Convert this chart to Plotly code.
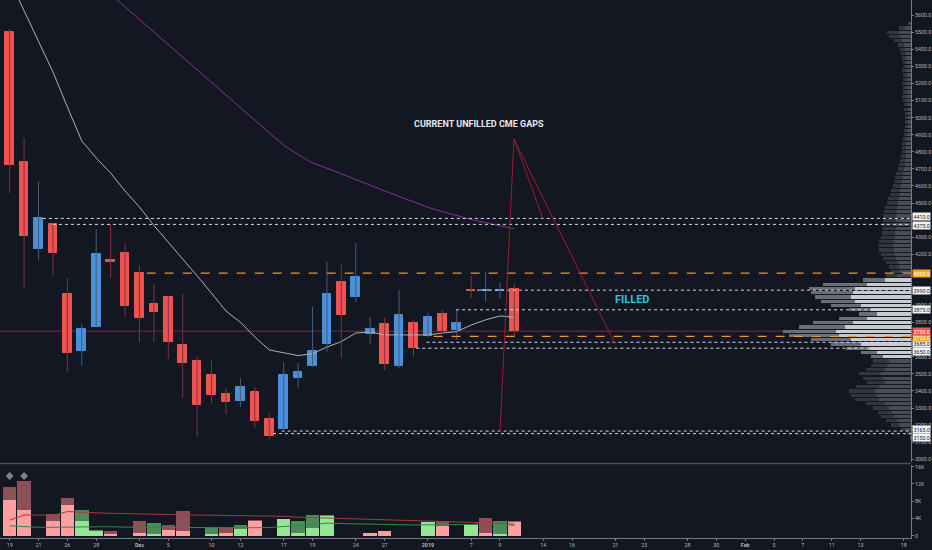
import plotly.graph_objects as go

# ---------------- DATA ----------------
day_index = [0, 1, 2, 3, 4, 5, 6, 7, 8, 9, 10, 11, 12, 13, 14, 15, 16, 17,
             18, 19, 20, 21, 22, 23, 24, 25, 26, 27, 28, 29, 30, 31, 32, 33, 34, 35]

open_ = [5504, 4741, 4231, 4375, 3968, 3634, 3775, 4167, 4208, 4090, 3909, 3950,
         3669, 3576, 3494, 3382, 3341, 3394, 3236, 3177, 3476, 3546, 3675, 4038,
         3950, 3734, 3792, 3546, 3798, 3722, 3851, 3757, 3990, 3985, 3988, 3995]
close = [4723, 4307, 4415, 4208, 3622, 3763, 4202, 4155, 3898, 3827, 3862, 3687,
         3564, 3318, 3376, 3335, 3423, 3224, 3136, 3494, 3511, 3634, 3968, 3845,
         4067, 3763, 3558, 3845, 3652, 3833, 3751, 3798, 3985, 3990, 3992, 3750]
high = [5519, 4881, 4624, 4384, 4062, 3792, 4348, 4378, 4266, 4132, 4021, 3956,
        3968, 3599, 3581, 3412, 3476, 3423, 3271, 3570, 3564, 3892, 4155, 4143,
        4266, 3833, 3827, 3991, 3816, 3857, 3874, 3874, 4073, 4098, 4034, 4025]
low = [4559, 4009, 4167, 4079, 3511, 3546, 3769, 4062, 3833, 3687, 3687, 3587,
       3359, 3131, 3330, 3265, 3306, 3183, 3119, 3172, 3417, 3540, 3628, 3593,
       3921, 3675, 3523, 3535, 3599, 3716, 3739, 3698, 3944, 3923, 3943, 3722]

ma_short = [5805, 5626, 5447, 5268, 5063, 4864, 4764, 4676, 4571, 4477, 4369, 4272,
            4175, 4074, 3972, 3868, 3802, 3716, 3640, 3622, 3607, 3618, 3657, 3689,
            3739, 3745, 3728, 3728, 3728, 3728, 3739, 3747, 3786, 3816, 3839, 3831]
ma_long = [None, None, None, None, None, 5870, 5796, 5722, 5648, 5574, 5499, 5426,
           5351, 5277, 5203, 5129, 5055, 4981, 4908, 4838, 4785, 4735, 4704, 4672,
           4640, 4605, 4571, 4539, 4507, 4475, 4450, 4425, 4404, 4385, 4367, 4349]

vol_total = [11200, 12600, 0, 5100, 8700, 6000, 1400, 1100, 0, 3400, 3000, 2600,
             5700, 0, 1800, 1900, 2600, 3700, 0, 3700, 3400, 4900, 4800, 0,
             0, 700, 1200, 0, 0, 3000, 3500, 0, 2700, 4200, 3500, 3300]
vol_part = [8200, 6000, 0, 3300, 7200, 3400, 1200, 200, 0, 600, 400, 1400,
            1200, 0, 400, 600, 1500, 3300, 0, 3900, 600, 1800, 4600, 0,
            0, 700, 1100, 0, 0, 3200, 2200, 0, 2600, 600, 500, 3200]
vol_dir = ['d', 'd', 'd', 'd', 'd', 'u', 'u', 'd', 'd', 'd', 'u', 'd',
           'd', 'd', 'u', 'd', 'u', 'd', 'd', 'u', 'u', 'u', 'u', 'd',
           'd', 'd', 'd', 'u', 'd', 'u', 'd', 'u', 'u', 'd', 'u', 'd']
vol_ma_red = [3600, 4800, 4800, 4700, 5600, 5400, 5300, 5200, 5100, 5000, 4950, 4900,
              4850, 4800, 4750, 4700, 4700, 4700, 4650, 4500, 4300, 4200, 4100, 4000,
              3900, 3800, 3700, 3600, 3500, 3400, 3350, 3300, 3200, 3100, 2900, 2700]
vol_ma_green = [2300, 2100, 1950, 1950, 2000, 2100, 2200, 2100, 2000, 1950, 1900, 1900,
                1900, 1900, 1900, 1850, 1850, 1850, 1900, 2100, 2350, 2600, 2900, 2800,
                2700, 2650, 2600, 2550, 2500, 2500, 2450, 2450, 2600, 2850, 2700, 2400]
signal_days = [0, 1]
signal_level = 13850

profile_prices = [5550, 5525, 5500, 5475, 5450, 5425, 5400, 5375, 5350, 5325, 5300, 5275,
                  5250, 5225, 5200, 5175, 5150, 5125, 5100, 5075, 5050, 5025, 5000, 4975,
                  4950, 4925, 4900, 4875, 4850, 4825, 4800, 4775, 4750, 4725, 4700, 4675,
                  4650, 4625, 4600, 4575, 4550, 4525, 4500, 4475, 4450, 4425, 4400, 4375,
                  4350, 4325, 4300, 4275, 4250, 4225, 4200, 4175, 4150, 4125, 4100, 4075,
                  4050, 4025, 4000, 3975, 3950, 3925, 3900, 3875, 3850, 3825, 3800, 3775,
                  3750, 3725, 3700, 3675, 3650, 3625, 3600, 3575, 3550, 3525, 3500, 3475,
                  3450, 3425, 3400, 3375, 3350, 3325, 3300, 3275, 3250, 3225, 3200, 3175,
                  3150, 3125]
profile_total = [3, 12, 24, 22, 17, 13, 11, 10, 9, 8, 8, 9,
                 8, 8, 9, 8, 8, 9, 8, 7, 7, 6, 6, 6,
                 6, 7, 7, 8, 9, 9, 9, 10, 11, 12, 13, 15,
                 16, 17, 18, 20, 21, 23, 24, 26, 27, 28, 28, 29,
                 28, 29, 30, 32, 33, 32, 30, 28, 25, 22, 20, 25,
                 48, 88, 102, 100, 96, 90, 80, 62, 52, 72, 98, 112,
                 128, 122, 100, 80, 65, 50, 40, 38, 40, 45, 52, 48,
                 44, 55, 62, 60, 56, 45, 38, 33, 30, 25, 20, 10,
                 4, 1]
profile_up = [2, 6, 12, 11, 9, 7, 6, 5, 5, 4, 4, 5,
              4, 4, 5, 4, 4, 5, 4, 4, 3, 3, 3, 3,
              3, 4, 4, 4, 5, 5, 5, 5, 6, 6, 7, 8,
              8, 9, 10, 11, 11, 12, 13, 14, 14, 15, 15, 16,
              15, 16, 16, 17, 18, 17, 16, 15, 13, 12, 11, 14,
              26, 44, 56, 58, 60, 56, 50, 40, 34, 44, 58, 66,
              75, 72, 60, 50, 42, 34, 28, 22, 24, 26, 30, 28,
              26, 32, 36, 34, 32, 26, 22, 19, 17, 14, 11, 6,
              2, 1]
value_area = [3600, 4050]

# visible price-axis labels (those hidden behind level boxes are left out)
price_ticks = [3000, 3100, 3200, 3300, 3400, 3500, 3600, 3800, 3900,
               4200, 4300, 4500, 4600, 4700, 4800, 4900, 5000, 5100, 5200, 5300,
               5400, 5500, 5600]
vol_ticks = [0, 4000, 8000, 12000, 16000]
vol_tick_text = ['0', '4K', '8K', '12K', '16K']
date_ticks = [0, 2, 4, 6, 9, 11, 14, 16, 19, 21, 24, 26, 29, 32, 34, 37, 39, 42, 44,
              47, 49, 51, 53, 55, 57, 59, 62]
date_labels = ['19', '21', '26', '28', '<b>Dec</b>', '5', '10', '12', '17', '19', '24', '27',
               '<b>2019</b>', '7', '9', '14', '16', '21', '23', '28', '30', '<b>Feb</b>',
               '5', '7', '11', '13', '18']

gap_levels = [4410, 4375, 3990, 3875, 3685, 3650, 3165, 3150]
gap_start = [2.3, 3.0, 32.4, 30.95, 28.9, 28.2, 18.86, 18.26]
gap_label_shift = [1.5, -1.5, 0, 0, -1.5, -3, 1.5, -4]
orange_levels = [4090, 3720]
orange_start = [9.5, 29.4]
orange_label_shift = [0, -1]
last_price = 3750

arrow_apex = (34.97, 4875)
arrow_targets = [(34.0, 3160), (36.98, 4408), (41.98, 3675)]
title_pos = (32.55, 4963)
filled_pos = (43.2, 3933)

# ---------------- STYLE ----------------
BG = '#131722'
UP = '#4a8fd9'
DN = '#ef5350'
UP_WICK = '#3e5f82'
DN_WICK = '#803240'
AXIS_TXT = '#b2b5be'
XMIN, XMAX = -0.67, 62.5
TICK_FONT = dict(size=5.3, color=AXIS_TXT, family='Roboto')

fig = go.Figure()

# volume profile (right side)
prof_tot_col = ['#6b6e79' if value_area[0] <= p <= value_area[1] else '#32363f' for p in profile_prices]
prof_up_col = ['#c8cad0' if value_area[0] <= p <= value_area[1] else '#484c57' for p in profile_prices]
fig.add_trace(go.Bar(x=profile_total, y=profile_prices, orientation='h', width=19,
                     marker=dict(color=prof_tot_col, line=dict(width=0)),
                     xaxis='x3', yaxis='y', hoverinfo='skip'))
fig.add_trace(go.Bar(x=profile_up, y=profile_prices, orientation='h', width=19,
                     marker=dict(color=prof_up_col, line=dict(width=0)),
                     xaxis='x3', yaxis='y', hoverinfo='skip'))

# MAs on price
fig.add_trace(go.Scatter(x=day_index, y=ma_long, mode='lines',
                         line=dict(color='#8e2c9c', width=1), xaxis='x', yaxis='y'))
fig.add_trace(go.Scatter(x=day_index, y=ma_short, mode='lines',
                         line=dict(color='#aeb1ba', width=1), xaxis='x', yaxis='y'))

# candle wicks
for up_side, col in ((True, UP_WICK), (False, DN_WICK)):
    wx, wy = [], []
    for i, o, c, h, l in zip(day_index, open_, close, high, low):
        if (c >= o) == up_side:
            wx += [i, i, None]
            wy += [l, h, None]
    fig.add_trace(go.Scatter(x=wx, y=wy, mode='lines', line=dict(color=col, width=1),
                             xaxis='x', yaxis='y', hoverinfo='skip'))

# candle bodies
body_col = [UP if c >= o else DN for o, c in zip(open_, close)]
fig.add_trace(go.Bar(x=day_index, y=[abs(c - o) for o, c in zip(open_, close)],
                     base=[min(o, c) for o, c in zip(open_, close)], width=0.6,
                     marker=dict(color=body_col, line=dict(color=body_col, width=1)),
                     xaxis='x', yaxis='y'))

# volume
dark_col = ['#4f8a5c' if d == 'u' else '#8e5058' for d in vol_dir]
light_col = ['#96e596' if d == 'u' else '#ff9f9f' for d in vol_dir]
fig.add_trace(go.Bar(x=day_index, y=vol_total, width=0.94, marker=dict(color=dark_col, line=dict(width=0)),
                     xaxis='x2', yaxis='y2'))
fig.add_trace(go.Bar(x=day_index, y=vol_part, width=0.94, marker=dict(color=light_col, line=dict(width=0)),
                     xaxis='x2', yaxis='y2'))
fig.add_trace(go.Scatter(x=day_index, y=vol_ma_red, mode='lines', line=dict(color='#a83a3e', width=1),
                         xaxis='x2', yaxis='y2'))
fig.add_trace(go.Scatter(x=day_index, y=vol_ma_green, mode='lines', line=dict(color='#2e8b3e', width=1),
                         xaxis='x2', yaxis='y2'))
fig.add_trace(go.Scatter(x=signal_days, y=[signal_level] * len(signal_days), mode='markers',
                         marker=dict(symbol='diamond', size=6, color='#80838c'),
                         xaxis='x2', yaxis='y2'))

shapes = []
shapes.append(dict(type='line', xref='x', yref='y', x0=XMIN, x1=XMAX, y0=last_price, y1=last_price,
                   line=dict(color='#7b2d3b', width=1), layer='below'))
for lv, st in zip(gap_levels, gap_start):
    shapes.append(dict(type='line', xref='x', yref='y', x0=st, x1=XMAX, y0=lv, y1=lv,
                       line=dict(color='#d7d9de', width=1, dash='dot')))
for lv, st in zip(orange_levels, orange_start):
    shapes.append(dict(type='line', xref='x', yref='y', x0=st, x1=XMAX, y0=lv, y1=lv,
                       line=dict(color='#e8982a', width=1.3, dash='dash')))
for tx, ty in arrow_targets:
    shapes.append(dict(type='line', xref='x', yref='y', x0=arrow_apex[0], y0=arrow_apex[1],
                       x1=tx, y1=ty, line=dict(color='#9b1c2e', width=1)))
shapes.append(dict(type='line', xref='paper', yref='paper', x0=0, x1=1, y0=0.1385, y1=0.1385,
                   line=dict(color='#4a4d57', width=1.5)))

annotations = [
    dict(x=title_pos[0], y=title_pos[1], xref='x', yref='y', text='<b>CURRENT UNFILLED CME GAPS</b>',
         showarrow=False, font=dict(size=9, color='#e6e7ea', family='Roboto')),
    dict(x=filled_pos[0], y=filled_pos[1], xref='x', yref='y', text='<b>FILLED</b>',
         showarrow=False, font=dict(size=11, color='#26c6da', family='Roboto')),
]


def level_label(lv, bg, fg, shift):
    return dict(x=1, xref='paper', y=lv, yref='y', xanchor='left', xshift=1, yshift=shift,
                text=f'{lv:.1f}', showarrow=False, bgcolor=bg, borderpad=0.5,
                font=dict(size=5.3, color=fg, family='Roboto'))


for lv, sh in zip(gap_levels, gap_label_shift):
    annotations.append(level_label(lv, '#f2f3f5', '#131722', sh))
for lv, sh in zip(orange_levels, orange_label_shift):
    annotations.append(level_label(lv, '#f5a623', '#ffffff', sh))
annotations.append(level_label(last_price, DN, '#ffffff', 0))

axis_common = dict(showgrid=False, zeroline=False, automargin=False)

fig.update_layout(
    width=932, height=550, margin=dict(l=0, r=21, t=0, b=12, autoexpand=False),
    paper_bgcolor=BG, plot_bgcolor=BG, showlegend=False,
    barmode='overlay', bargap=0,
    font=dict(family='Roboto', color=AXIS_TXT, size=6),
    shapes=shapes, annotations=annotations,
    xaxis=dict(domain=[0, 1], anchor='y', range=[XMIN, XMAX], showticklabels=False,
               ticks='', **axis_common),
    xaxis2=dict(domain=[0, 1], anchor='y2', range=[XMIN, XMAX], tickvals=date_ticks,
                ticktext=date_labels, ticks='outside', ticklen=2, tickcolor='#787b86',
                showline=True, linecolor='#787b86', tickfont=TICK_FONT, **axis_common),
    xaxis3=dict(overlaying='x', anchor='y', range=[911, 0], visible=False, automargin=False),
    yaxis=dict(domain=[0.1413, 1], anchor='x', side='right', range=[2984, 5689],
               tickvals=price_ticks, tickformat='.1f', ticks='outside', ticklen=2,
               tickcolor='#787b86', showline=True, linecolor='#787b86',
               tickfont=TICK_FONT, **axis_common),
    yaxis2=dict(domain=[0, 0.1357], anchor='x2', side='right', range=[-530, 16400],
                tickvals=vol_ticks, ticktext=vol_tick_text, ticks='outside', ticklen=2,
                tickcolor='#787b86', showline=True, linecolor='#787b86',
                tickfont=TICK_FONT, **axis_common),
)

fig.write_html('out.html', config={'displayModeBar': False},
               post_script="document.body.style.margin='0';document.body.style.overflow='hidden';"
                           "document.body.style.background='#131722';")
